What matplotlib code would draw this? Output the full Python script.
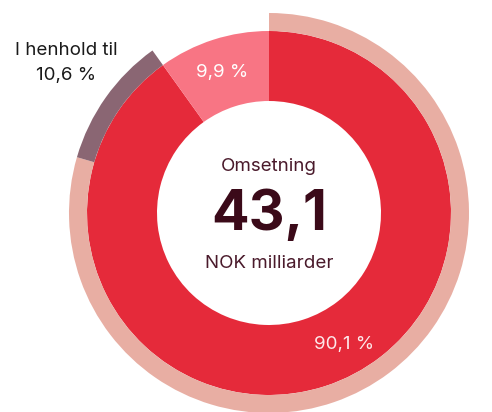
import matplotlib
matplotlib.use("Agg")
import matplotlib.pyplot as plt

# Omsetning split (percent of total) and outer-ring share
categories = ["Hovedandel", "Øvrig"]
shares = [90.1, 9.9]
henhold_share = 10.6
total_value = "43,1"

inner_colors = ["#e52a3a", "#f87584"]
outer_colors = ["#e8aea3", "#8a6673", "none"]
text_dark = "#3b0a19"

plt.rcParams["font.family"] = ["Inter", "DejaVu Sans"]

fig = plt.figure(figsize=(4.92, 4.12), dpi=100)
ax = fig.add_axes([0, 0, 1, 1])

# inner donut
ax.pie(shares, radius=182, startangle=90, counterclock=False,
       colors=inner_colors, wedgeprops=dict(width=70, linewidth=0))

# outer thin ring: rest of main share, "I henhold til" share, gap
outer_vals = [shares[0] - henhold_share, henhold_share, shares[1]]
ax.pie(outer_vals, radius=200, startangle=90, counterclock=False,
       colors=outer_colors, wedgeprops=dict(width=18, linewidth=0))

ax.set_aspect("equal")
ax.set_xlim(-269, 492 - 269)
ax.set_ylim(-(412 - 213), 213)
ax.axis("off")

fmt = lambda v: f"{v:.1f}".replace(".", ",") + " %"

ax.text(0, 47, "Omsetning", ha="center", va="center", fontsize=13.5, color="#4a1a2b")
ax.text(0, -2, total_value, ha="center", va="center", fontsize=40, fontweight="bold",
        color=text_dark)
ax.text(0, -50, "NOK milliarder", ha="center", va="center", fontsize=13.5, color="#4a1a2b")

ax.text(-47, 141, fmt(shares[1]), ha="center", va="center", fontsize=13.5, color="white")
ax.text(75, -131, fmt(shares[0]), ha="center", va="center", fontsize=13.5, color="#fde8ea")

ax.text(-203, 163, "I henhold til", ha="center", va="center", fontsize=13.5, color="#1a1a1a")
ax.text(-203, 138, fmt(henhold_share), ha="center", va="center", fontsize=13.5, color="#1a1a1a")

fig.savefig("out.png", dpi=100)
